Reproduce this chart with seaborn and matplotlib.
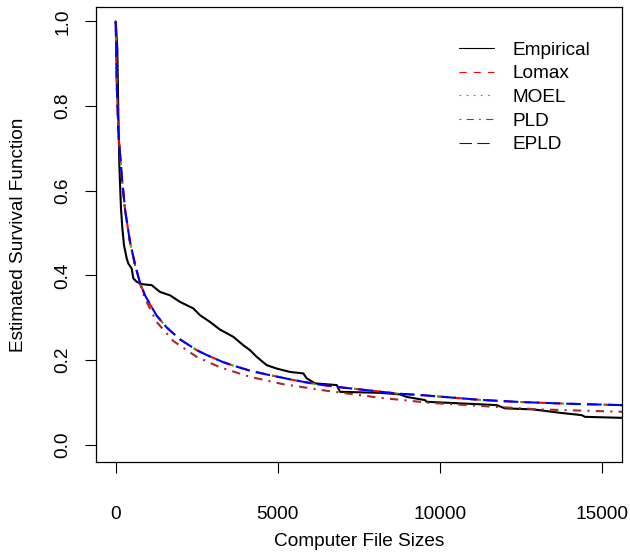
import matplotlib
matplotlib.use("Agg")
import matplotlib.pyplot as plt
import seaborn as sns
import pandas as pd
from matplotlib.lines import Line2D

# ---------------- data ----------------
emp_x = [0, 9, 50, 82, 112, 163, 205, 256, 340, 390, 493, 543, 647, 750, 852,
         1110, 1366, 1675, 1983, 2394, 2601, 2910, 3217, 3627, 3936, 4142, 4349,
         4658, 4966, 5376, 5787, 5891, 6147, 6817, 6919, 8152, 8769, 8975, 9540,
         9592, 11752, 12008, 12882, 13704, 14373, 14476, 15555, 16000]
emp_y = [1.0, 0.99, 0.935, 0.778, 0.66, 0.558, 0.511, 0.471, 0.44, 0.428, 0.416,
         0.393, 0.385, 0.381, 0.379, 0.377, 0.361, 0.353, 0.3375, 0.322, 0.306,
         0.29, 0.272, 0.255, 0.235, 0.2235, 0.2077, 0.188, 0.180, 0.172, 0.1685,
         0.157, 0.145, 0.141, 0.125, 0.1227, 0.119, 0.113, 0.1055, 0.1015,
         0.0937, 0.086, 0.0835, 0.0755, 0.070, 0.066, 0.0637, 0.063]

fit_x = [0, 30, 82, 185, 287, 441, 596, 750, 904, 1058, 1264, 1573, 1983, 2498,
         2807, 3320, 3627, 4142, 4658, 5478, 6200, 7021, 7741, 8667, 9488, 11246,
         12479, 13910, 15575, 16000]
lomax_y = [1.0, 0.857, 0.739, 0.635, 0.556, 0.479, 0.426, 0.382, 0.353, 0.332,
           0.305, 0.277, 0.249, 0.2235, 0.212, 0.195, 0.187, 0.175, 0.166, 0.153,
           0.143, 0.135, 0.129, 0.121, 0.117, 0.106, 0.101, 0.097, 0.0937, 0.093]
moel_y = [1.0, 0.857, 0.739, 0.635, 0.556, 0.479, 0.426, 0.382, 0.353, 0.332,
          0.305, 0.277, 0.249, 0.2235, 0.212, 0.195, 0.187, 0.175, 0.166, 0.153,
          0.143, 0.135, 0.129, 0.121, 0.117, 0.106, 0.101, 0.097, 0.0937, 0.093]
epld_y = [1.0, 0.857, 0.739, 0.635, 0.556, 0.479, 0.426, 0.382, 0.353, 0.332,
          0.305, 0.277, 0.249, 0.2235, 0.212, 0.195, 0.187, 0.175, 0.166, 0.153,
          0.143, 0.135, 0.129, 0.121, 0.117, 0.106, 0.101, 0.097, 0.0937, 0.093]

pld_x = [0, 30, 82, 185, 287, 441, 596, 750, 904, 1264, 1778, 2498, 3218, 4142,
         5170, 6509, 8152, 9694, 11339, 13097, 15575, 16000]
pld_y = [1.0, 0.857, 0.739, 0.635, 0.556, 0.479, 0.424, 0.38, 0.345, 0.29, 0.245,
         0.2077, 0.183, 0.1605, 0.143, 0.1275, 0.111, 0.099, 0.0913, 0.0835,
         0.078, 0.077]

labels = ["Empirical", "Lomax", "MOEL", "PLD", "EPLD"]
x_ticks = [0, 5000, 10000, 15000]
y_ticks = [0.0, 0.2, 0.4, 0.6, 0.8, 1.0]

# ---------------- style ----------------
sns.set_theme(style="white")
plt.rcParams["font.family"] = ["Liberation Sans", "DejaVu Sans"]
plt.rcParams["text.color"] = "black"
plt.rcParams["axes.labelcolor"] = "black"
FS = 13.7

fig = plt.figure(figsize=(6.3, 5.57), dpi=100)
ax = fig.add_axes([96 / 630, 1 - 461.7 / 557, (622 - 96) / 630, (461.7 - 7) / 557])

LW = 1.5
styles = [
    dict(color="black", lw=LW, dashes=None),
    dict(color="red", lw=LW, dashes=(4, 4)),
    dict(color="#00CD00", lw=LW, dashes=(1, 3)),
    dict(color="#A52A2A", lw=LW, dashes=(1, 3, 4, 3)),
    dict(color="blue", lw=LW, dashes=(7, 3)),
]

series = [
    (emp_x, emp_y),
    (fit_x, lomax_y),
    (fit_x, moel_y),
    (pld_x, pld_y),
    (fit_x, epld_y),
]

for (xs, ys), st, lab in zip(series, styles, labels):
    df = pd.DataFrame({"x": xs, "y": ys})
    sns.lineplot(data=df, x="x", y="y", ax=ax, sort=False, estimator=None,
                 legend=False, color=st["color"], linewidth=st["lw"])
    ln = ax.get_lines()[-1]
    if st["dashes"] is not None:
        ln.set_dashes(st["dashes"])

ax.set_xlim(-608, 15617)
ax.set_ylim(-0.04, 1.034)
ax.set_xticks(x_ticks)
ax.set_xticklabels([str(v) for v in x_ticks])
ax.set_yticks(y_ticks)
ax.set_yticklabels([f"{v:.1f}" for v in y_ticks])

for s in ax.spines.values():
    s.set_visible(True)
    s.set_color("black")
    s.set_linewidth(0.9)

ax.tick_params(axis="both", which="major", direction="out", length=8,
               width=0.8, color="black", labelsize=FS, labelcolor="black",
               bottom=True, left=True)
ax.tick_params(axis="x", pad=24)
ax.tick_params(axis="y", pad=10)
for lab in ax.get_yticklabels():
    lab.set_rotation(90)
    lab.set_va("center")
    lab.set_ha("right")

ax.set_xlabel("Computer File Sizes", fontsize=FS, color="black")
ax.set_ylabel("Estimated Survival Function", fontsize=FS, color="black")
ax.xaxis.set_label_coords(0.5, -0.157)
ax.yaxis.set_label_coords(-0.132, 0.5)

handles = []
for st, lab in zip(styles, labels):
    h = Line2D([0], [0], color=st["color"], lw=0.8)
    if st["dashes"] is not None:
        h.set_dashes([d * 1.6 for d in st["dashes"]])
    handles.append(h)
leg = ax.legend(handles, labels, loc="upper left",
                bbox_to_anchor=(459 / 630, 1 - 41.5 / 557),
                bbox_transform=fig.transFigure, frameon=False, fontsize=FS,
                handlelength=1.85, handletextpad=0.95, labelspacing=0.33,
                borderpad=0, borderaxespad=0)
for t in leg.get_texts():
    t.set_color("black")

fig.savefig("out.png", dpi=100)
